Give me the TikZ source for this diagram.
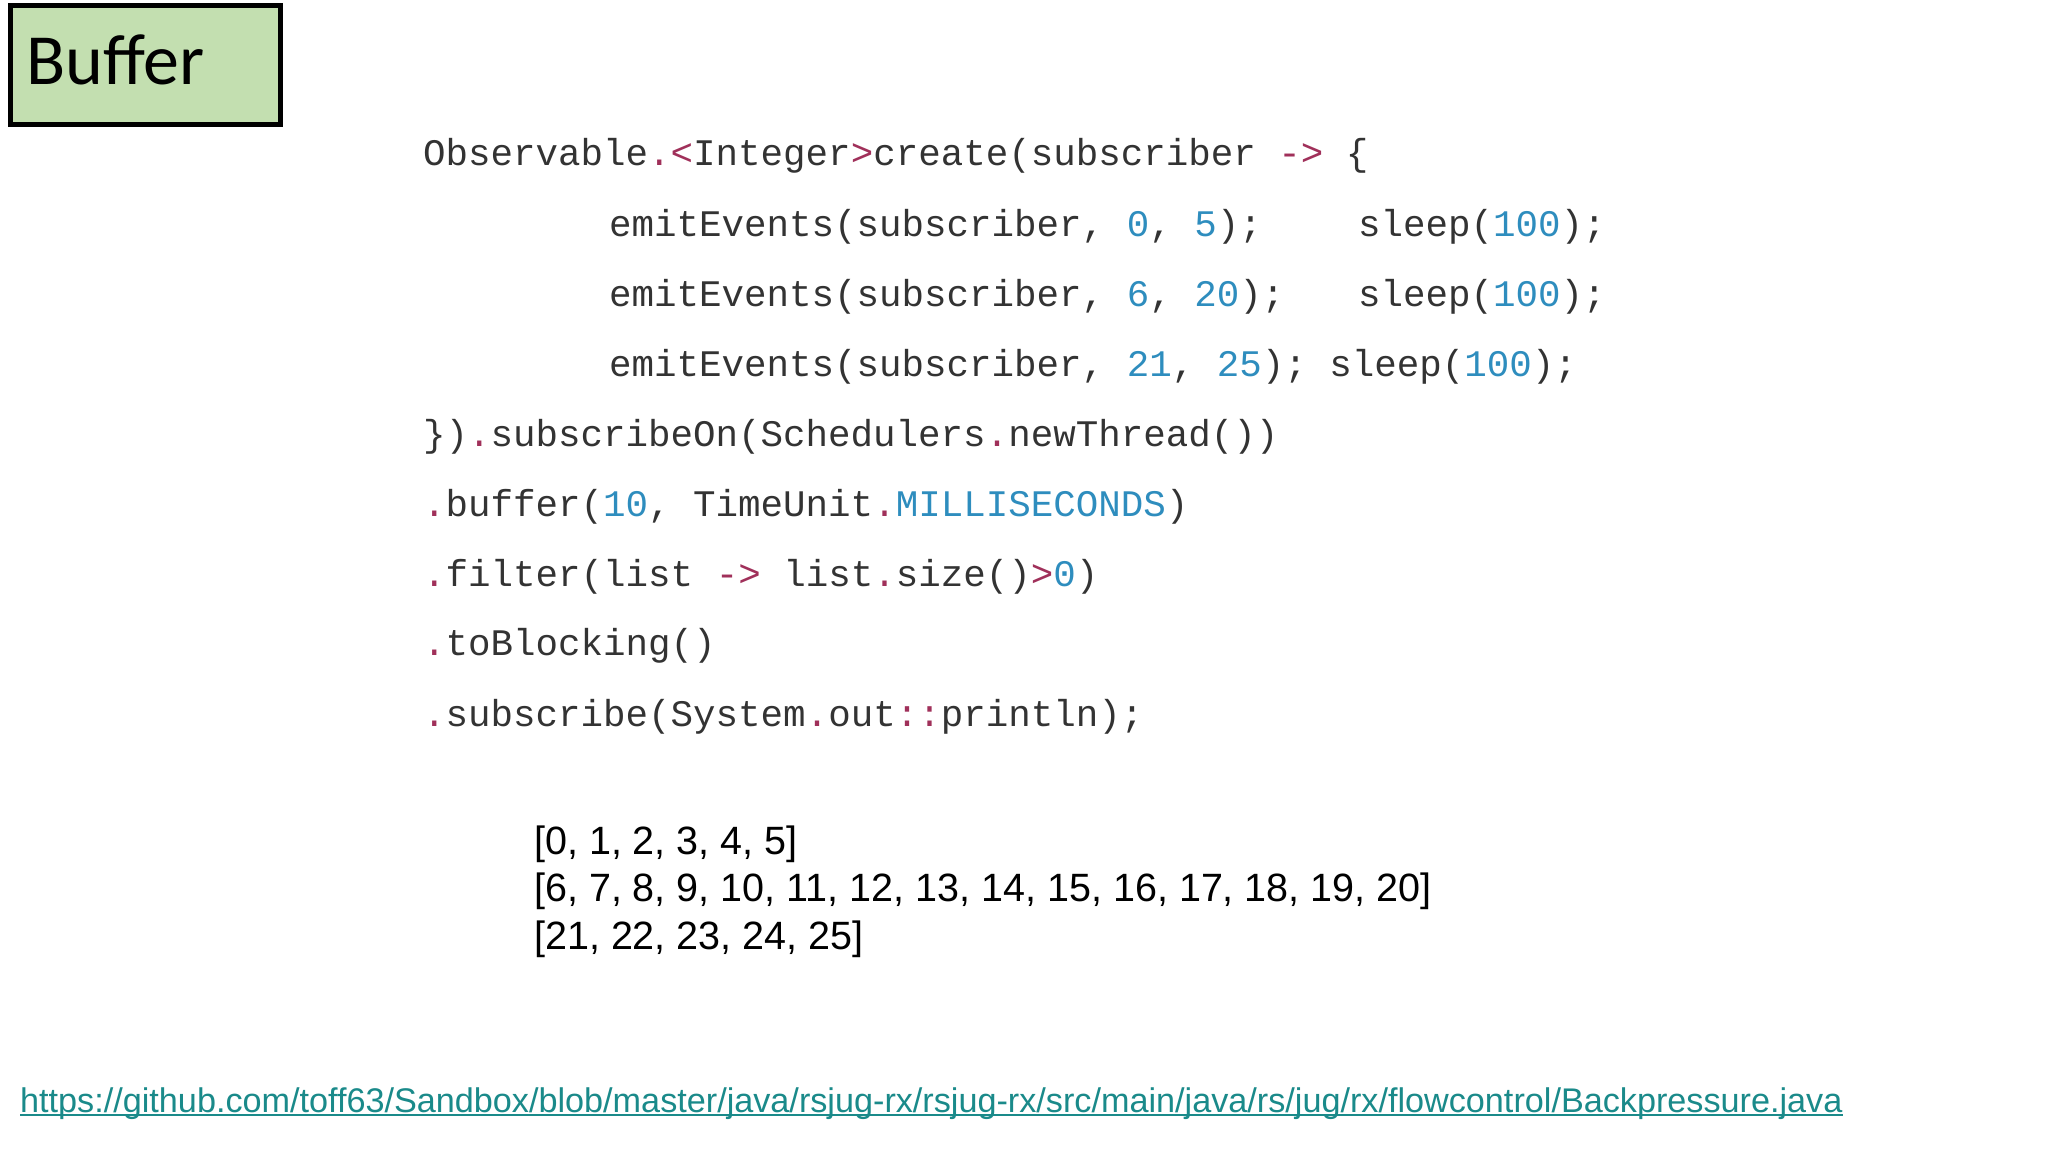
\documentclass[tikz,border=0pt]{standalone}
\usepackage{fontspec}
\setmonofont{Liberation Mono}
\setsansfont{Liberation Sans}
\newfontfamily\calib{Carlito}
\definecolor{txt}{HTML}{333333}
\definecolor{op}{HTML}{A0305A}
\definecolor{num}{HTML}{2E8DBE}
\definecolor{lnk}{HTML}{1A8A8A}
\definecolor{boxg}{HTML}{C3DFB0}
\begin{document}
\begin{tikzpicture}[x=1pt,y=-1pt,
  code/.style={anchor=west,inner sep=0,text=txt,font=\fontsize{37.5}{40}\selectfont\ttfamily},
  outline/.style={anchor=west,inner sep=0,font=\fontsize{39.5}{42}\selectfont\sffamily}]
\useasboundingbox (0,0) rectangle (2048,1152);
\fill[white] (0,0) rectangle (2048,1152);
\node[draw=black,line width=5pt,fill=boxg,minimum width=270,minimum height=119,anchor=north west,inner sep=0] (box) at (8,3) {};
\node[anchor=west,inner sep=0,font=\fontsize{72}{76}\selectfont\calib] (title) at (26,60) {Buffer};
\def\N#1{\textcolor{num}{#1}}
\def\O#1{\textcolor{op}{#1}}
\node[code] (l1) at (423,156) {Observable\O{.<}Integer\O{>}create(subscriber \O{->} \{};
\node[code] (l2) at (609,227) {emitEvents(subscriber, \N{0}, \N{5});};
\node[code] (s2) at (1358,227) {sleep(\N{100});};
\node[code] (l3) at (609,297) {emitEvents(subscriber, \N{6}, \N{20});};
\node[code] (s3) at (1358,297) {sleep(\N{100});};
\node[code] (l4) at (609,367) {emitEvents(subscriber, \N{21}, \N{25}); sleep(\N{100});};
\node[code] (l5) at (423,437) {\})\O{.}subscribeOn(Schedulers\O{.}newThread())};
\node[code] (l6) at (423,507) {\O{.}buffer(\N{10}, TimeUnit\O{.}\N{MILLISECONDS})};
\node[code] (l7) at (423,577) {\O{.}filter(list \O{->} list\O{.}size()\O{>}\N{0})};
\node[code] (l8) at (423,646) {\O{.}toBlocking()};
\node[code] (l9) at (423,717) {\O{.}subscribe(System\O{.}out\O{::}println);};
\node[outline] (o1) at (534,844) {[0, 1, 2, 3, 4, 5]};
\node[outline] (o2) at (534,891) {[6, 7, 8, 9, 10, 11, 12, 13, 14, 15, 16, 17, 18, 19, 20]};
\node[outline] (o3) at (534,939) {[21, 22, 23, 24, 25]};
\node[anchor=west,inner sep=0,text=lnk,font=\fontsize{34.2}{36}\selectfont\sffamily] (url) at (20,1104) {https://github.com/toff63/Sandbox/blob/master/java/rsjug-rx/rsjug-rx/src/main/java/rs/jug/rx/flowcontrol/Backpressure.java};
\draw[lnk,line width=2pt] ([yshift=-2]url.base west) -- ([yshift=-2]url.base east);
\end{tikzpicture}
\end{document}
